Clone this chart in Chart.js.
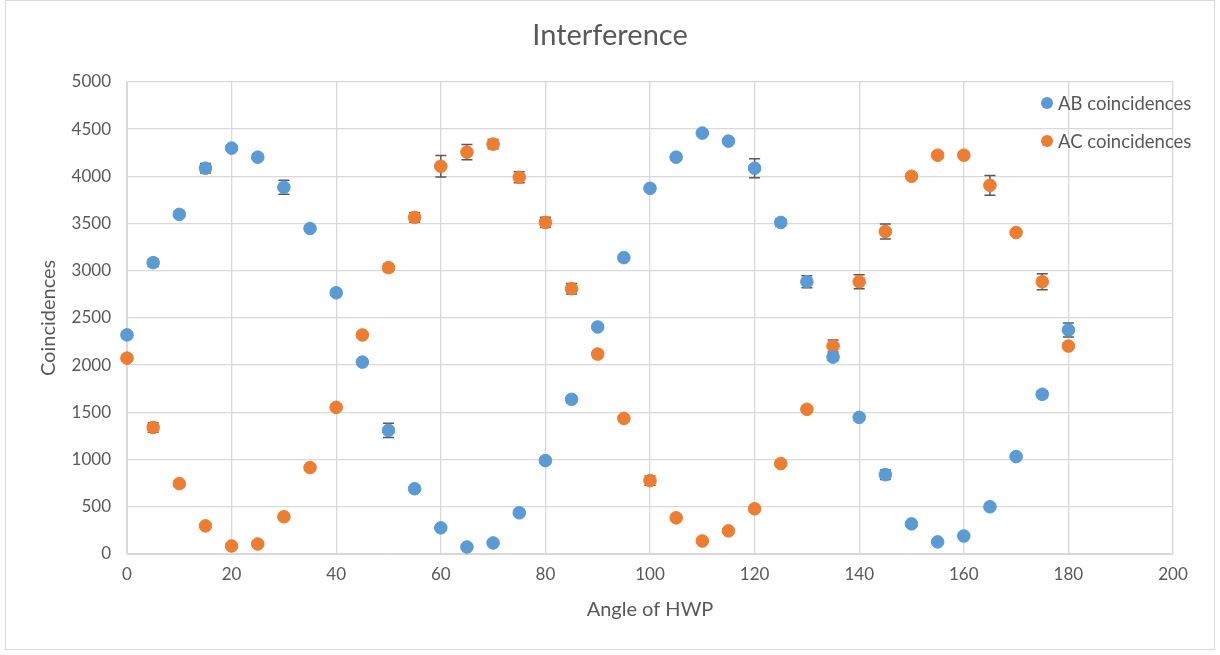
<!DOCTYPE html>
<html>
<head>
<meta charset="utf-8">
<script src="https://cdn.jsdelivr.net/npm/chart.js@4.4.1/dist/chart.umd.min.js"></script>
<style>
  html, body { margin: 0; padding: 0; background: #fff; }
  #wrap { width: 1220px; height: 655px; }
</style>
</head>
<body>
<div id="wrap"><canvas id="interferenceChart"></canvas></div>
<script>
// Angle of HWP (degrees)
const angles = [0, 5, 10, 15, 20, 25, 30, 35, 40, 45, 50, 55, 60, 65, 70, 75, 80, 85, 90,
  95, 100, 105, 110, 115, 120, 125, 130, 135, 140, 145, 150, 155, 160, 165, 170, 175, 180];

const abCounts = [2320, 3085, 3596, 4085, 4298, 4202, 3883, 3447, 2766, 2032, 1309, 691, 277, 74, 117,
  436, 989, 1638, 2404, 3138, 3872, 4202, 4457, 4372, 4085, 3511, 2883, 2085, 1447, 840, 319, 128,
  191, 500, 1032, 1691, 2372];
const abErrors = [30, 40, 30, 50, 30, 30, 75, 30, 30, 30, 75, 25, 20, 15, 20,
  25, 30, 35, 30, 30, 30, 30, 30, 30, 100, 40, 64, 35, 30, 50, 20, 15,
  15, 25, 30, 35, 75];

const acCounts = [2074, 1340, 745, 298, 85, 106, 394, 915, 1553, 2319, 3032, 3564, 4106, 4255, 4340,
  3989, 3511, 2809, 2117, 1436, 777, 383, 138, 245, 479, 957, 1532, 2202, 2883, 3415, 4000, 4223,
  4223, 3904, 3404, 2883, 2202];
const acErrors = [30, 50, 30, 20, 15, 15, 25, 30, 30, 30, 40, 50, 114, 80, 50,
  58, 55, 55, 35, 30, 50, 25, 15, 20, 25, 30, 30, 64, 75, 80, 30, 30,
  30, 104, 30, 85, 35];

const xTicks = [0, 20, 40, 60, 80, 100, 120, 140, 160, 180, 200];

const textColor = "#595959";
const gridColor = "#d9d9d9";
const fontFamily = "Lato, 'Open Sans', sans-serif";

function toPoints(xs, ys, errs) {
  return xs.map((x, i) => ({ x: x, y: ys[i], err: errs[i] }));
}

// Vertical error bars, drawn under the markers
const errorBars = {
  id: "errorBars",
  beforeDatasetsDraw(chart) {
    const ctx = chart.ctx;
    const xs = chart.scales.x;
    const ys = chart.scales.y;
    ctx.save();
    ctx.strokeStyle = "#595959";
    ctx.lineWidth = 1.5;
    chart.data.datasets.forEach(ds => {
      ds.data.forEach(p => {
        const px = xs.getPixelForValue(p.x);
        const top = ys.getPixelForValue(p.y + p.err);
        const bot = ys.getPixelForValue(p.y - p.err);
        ctx.beginPath();
        ctx.moveTo(px, top); ctx.lineTo(px, bot);
        ctx.moveTo(px - 5.5, top); ctx.lineTo(px + 5.5, top);
        ctx.moveTo(px - 5.5, bot); ctx.lineTo(px + 5.5, bot);
        ctx.stroke();
      });
    });
    ctx.restore();
  }
};

// Legend overlapping the plot area top-right, plus outer frame
const overlayLegend = {
  id: "overlayLegend",
  afterDraw(chart) {
    const ctx = chart.ctx;
    ctx.save();
    ctx.strokeStyle = gridColor;
    ctx.lineWidth = 1;
    ctx.strokeRect(5.5, 0.5, 1209, 649);
    ctx.font = "18.5px " + fontFamily;
    ctx.textBaseline = "middle";
    chart.data.datasets.forEach((ds, i) => {
      const y = 103 + i * 38;
      ctx.beginPath();
      ctx.arc(1047, y, 6, 0, Math.PI * 2);
      ctx.fillStyle = ds.backgroundColor;
      ctx.fill();
      ctx.fillStyle = textColor;
      ctx.fillText(ds.label, 1058, y + 1);
    });
    ctx.restore();
  }
};

new Chart(document.getElementById("interferenceChart"), {
  type: "scatter",
  data: {
    datasets: [
      {
        label: "AB coincidences",
        data: toPoints(angles, abCounts, abErrors),
        backgroundColor: "#5B9BD5",
        borderColor: "#5B9BD5",
        pointRadius: 6.3,
        pointHoverRadius: 6.3,
        clip: false
      },
      {
        label: "AC coincidences",
        data: toPoints(angles, acCounts, acErrors),
        backgroundColor: "#ED7D31",
        borderColor: "#ED7D31",
        pointRadius: 6.3,
        pointHoverRadius: 6.3,
        clip: false
      }
    ]
  },
  options: {
    responsive: true,
    maintainAspectRatio: false,
    animation: false,
    layout: { padding: { left: 5, right: 5, top: 0, bottom: 29 } },
    plugins: {
      legend: { display: false },
      tooltip: { enabled: false },
      title: {
        display: true,
        text: "Interference",
        color: textColor,
        font: { family: fontFamily, size: 29, weight: "normal" },
        padding: { top: 18, bottom: 29 }
      }
    },
    scales: {
      x: {
        type: "linear",
        min: 0,
        max: 200,
        afterBuildTicks: s => { s.ticks = xTicks.map(v => ({ value: v })); },
        afterFit: s => { s.height = 72; },
        grid: { color: gridColor, lineWidth: 1.3, drawTicks: false },
        border: { color: gridColor },
        ticks: { color: textColor, font: { family: fontFamily, size: 17 }, padding: 10 },
        title: {
          display: true,
          text: "Angle of HWP",
          color: textColor,
          font: { family: fontFamily, size: 20 },
          padding: { top: 6 }
        }
      },
      y: {
        min: 0,
        max: 5000,
        afterFit: s => { s.width = 122; },
        grid: { color: gridColor, lineWidth: 1.3, drawTicks: false },
        border: { color: gridColor },
        ticks: {
          stepSize: 500,
          color: textColor,
          font: { family: fontFamily, size: 17 },
          padding: 16,
          callback: v => String(v)
        },
        title: {
          display: true,
          text: "Coincidences",
          color: textColor,
          font: { family: fontFamily, size: 20 },
          padding: { top: 32, bottom: 4 }
        }
      },
      // empty right-hand axis that only reserves the margin beside the plot
      yRight: {
        position: "right",
        min: 0,
        max: 5000,
        afterFit: s => { s.width = 42; },
        grid: { display: false },
        border: { display: false },
        ticks: { display: false }
      }
    }
  },
  plugins: [errorBars, overlayLegend]
});
</script>
</body>
</html>
